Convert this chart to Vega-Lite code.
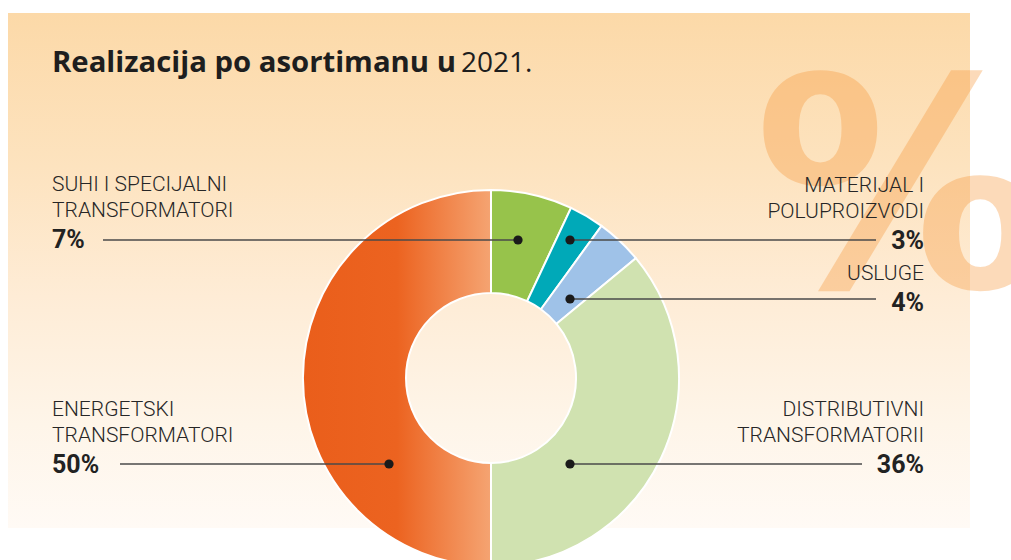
{
  "$schema": "https://vega.github.io/schema/vega-lite/v6.json",
  "width": 962,
  "height": 515,
  "autosize": {"type": "none"},
  "padding": {"left": 8, "top": 13, "right": 41, "bottom": 32},
  "background": "#ffffff",
  "view": {
    "stroke": null,
    "fill": {
      "gradient": "linear", "x1": 0, "y1": 0, "x2": 0, "y2": 1,
      "stops": [
        {"offset": 0, "color": "#fcd9a8"},
        {"offset": 0.3, "color": "#fde3bf"},
        {"offset": 0.55, "color": "#feecd6"},
        {"offset": 0.8, "color": "#fef5e9"},
        {"offset": 1, "color": "#fffaf5"}
      ]
    }
  },
  "datasets": {
    "slices": [
      {"cat": "SUHI I SPECIJALNI TRANSFORMATORI", "value": 7, "idx": 1},
      {"cat": "MATERIJAL I POLUPROIZVODI", "value": 3, "idx": 2},
      {"cat": "USLUGE", "value": 4, "idx": 3},
      {"cat": "DISTRIBUTIVNI TRANSFORMATORII", "value": 36, "idx": 4},
      {"cat": "ENERGETSKI TRANSFORMATORI", "value": 50, "idx": 5}
    ],
    "labels": [
      {"side": "L", "kind": "name", "text": "SUHI I SPECIJALNI", "x": 52, "y": 191},
      {"side": "L", "kind": "name", "text": "TRANSFORMATORI", "x": 52, "y": 217},
      {"side": "L", "kind": "pct", "text": "7%", "x": 52, "y": 248},
      {"side": "L", "kind": "name", "text": "ENERGETSKI", "x": 52, "y": 416},
      {"side": "L", "kind": "name", "text": "TRANSFORMATORI", "x": 52, "y": 442},
      {"side": "L", "kind": "pct", "text": "50%", "x": 52, "y": 473},
      {"side": "R", "kind": "name", "text": "MATERIJAL I", "x": 924, "y": 192},
      {"side": "R", "kind": "name", "text": "POLUPROIZVODI", "x": 924, "y": 218},
      {"side": "R", "kind": "pct", "text": "3%", "x": 924, "y": 249},
      {"side": "R", "kind": "name", "text": "USLUGE", "x": 924, "y": 280},
      {"side": "R", "kind": "pct", "text": "4%", "x": 924, "y": 311},
      {"side": "R", "kind": "name", "text": "DISTRIBUTIVNI", "x": 924, "y": 416},
      {"side": "R", "kind": "name", "text": "TRANSFORMATORII", "x": 924, "y": 442},
      {"side": "R", "kind": "pct", "text": "36%", "x": 924, "y": 473}
    ],
    "leaders": [
      {"cat": "SUHI", "xa": 103, "xb": 518, "dot": 518, "y": 240},
      {"cat": "MATERIJAL", "xa": 570, "xb": 876, "dot": 570, "y": 240},
      {"cat": "USLUGE", "xa": 570, "xb": 876, "dot": 570, "y": 299},
      {"cat": "DISTRIBUTIVNI", "xa": 570, "xb": 862, "dot": 570, "y": 464},
      {"cat": "ENERGETSKI", "xa": 120, "xb": 389, "dot": 389, "y": 464}
    ],
    "title": [
      {"w": "b", "text": "Realizacija po asortimanu u", "x": 52, "y": 72},
      {"w": "r", "text": "2021.", "x": 461, "y": 72}
    ],
    "mark": [
      {"text": "%", "x": 754, "y": 287}
    ]
  },
  "layer": [
    {
      "data": {"name": "mark"},
      "mark": {"type": "text", "font": "DejaVu Sans", "fontWeight": "bold", "fontSize": 292, "align": "left", "baseline": "alphabetic", "color": "#f7973a", "opacity": 0.35},
      "encoding": {
        "x": {"field": "x", "type": "quantitative", "scale": {"domain": [8, 970], "nice": false, "zero": false}, "axis": null},
        "y": {"field": "y", "type": "quantitative", "scale": {"domain": [13, 528], "nice": false, "zero": false, "reverse": true}, "axis": null},
        "text": {"field": "text"}
      }
    },
    {
      "data": {"name": "slices"},
      "mark": {"type": "arc", "outerRadius": 188, "innerRadius": 85, "stroke": "#ffffff", "strokeWidth": 2},
      "encoding": {
        "x": {"datum": 491, "type": "quantitative", "scale": {"domain": [8, 970], "nice": false, "zero": false}, "axis": null},
        "y": {"datum": 378, "type": "quantitative", "scale": {"domain": [13, 528], "nice": false, "zero": false, "reverse": true}, "axis": null},
        "theta": {"field": "value", "type": "quantitative", "stack": true},
        "order": {"field": "idx", "type": "quantitative"},
        "fill": {
          "condition": {
            "test": "datum.cat === 'ENERGETSKI TRANSFORMATORI'",
            "value": {
              "gradient": "linear", "x1": 0, "y1": 0, "x2": 1, "y2": 0,
              "stops": [
                {"offset": 0, "color": "#ea5e1b"},
                {"offset": 0.5, "color": "#ec6320"},
                {"offset": 1, "color": "#f5a472"}
              ]
            }
          },
          "field": "cat", "type": "nominal",
          "scale": {
            "domain": ["SUHI I SPECIJALNI TRANSFORMATORI", "MATERIJAL I POLUPROIZVODI", "USLUGE", "DISTRIBUTIVNI TRANSFORMATORII", "ENERGETSKI TRANSFORMATORI"],
            "range": ["#97c34b", "#00a9b8", "#9fc2e8", "#d0e2b0", "#ec6320"]
          },
          "legend": null
        }
      }
    },
    {
      "data": {"name": "leaders"},
      "mark": {"type": "rule", "color": "#4a4a4a", "strokeWidth": 1.5},
      "encoding": {
        "x": {"field": "xa", "type": "quantitative", "scale": {"domain": [8, 970], "nice": false, "zero": false}, "axis": null},
        "x2": {"field": "xb"},
        "y": {"field": "y", "type": "quantitative", "scale": {"domain": [13, 528], "nice": false, "zero": false, "reverse": true}, "axis": null}
      }
    },
    {
      "data": {"name": "leaders"},
      "mark": {"type": "circle", "size": 85, "color": "#1a1a1a", "opacity": 1},
      "encoding": {
        "x": {"field": "dot", "type": "quantitative", "scale": {"domain": [8, 970], "nice": false, "zero": false}, "axis": null},
        "y": {"field": "y", "type": "quantitative", "scale": {"domain": [13, 528], "nice": false, "zero": false, "reverse": true}, "axis": null}
      }
    },
    {
      "data": {"name": "labels"},
      "transform": [{"filter": "datum.side === 'L' && datum.kind === 'name'"}],
      "mark": {"type": "text", "font": "Roboto", "fontWeight": 300, "fontSize": 21, "align": "left", "baseline": "alphabetic", "color": "#262626"},
      "encoding": {
        "x": {"field": "x", "type": "quantitative", "scale": {"domain": [8, 970], "nice": false, "zero": false}, "axis": null},
        "y": {"field": "y", "type": "quantitative", "scale": {"domain": [13, 528], "nice": false, "zero": false, "reverse": true}, "axis": null},
        "text": {"field": "text"}
      }
    },
    {
      "data": {"name": "labels"},
      "transform": [{"filter": "datum.side === 'L' && datum.kind === 'pct'"}],
      "mark": {"type": "text", "font": "Roboto", "fontWeight": "bold", "fontSize": 25, "align": "left", "baseline": "alphabetic", "color": "#222222"},
      "encoding": {
        "x": {"field": "x", "type": "quantitative", "scale": {"domain": [8, 970], "nice": false, "zero": false}, "axis": null},
        "y": {"field": "y", "type": "quantitative", "scale": {"domain": [13, 528], "nice": false, "zero": false, "reverse": true}, "axis": null},
        "text": {"field": "text"}
      }
    },
    {
      "data": {"name": "labels"},
      "transform": [{"filter": "datum.side === 'R' && datum.kind === 'name'"}],
      "mark": {"type": "text", "font": "Roboto", "fontWeight": 300, "fontSize": 21, "align": "right", "baseline": "alphabetic", "color": "#262626"},
      "encoding": {
        "x": {"field": "x", "type": "quantitative", "scale": {"domain": [8, 970], "nice": false, "zero": false}, "axis": null},
        "y": {"field": "y", "type": "quantitative", "scale": {"domain": [13, 528], "nice": false, "zero": false, "reverse": true}, "axis": null},
        "text": {"field": "text"}
      }
    },
    {
      "data": {"name": "labels"},
      "transform": [{"filter": "datum.side === 'R' && datum.kind === 'pct'"}],
      "mark": {"type": "text", "font": "Roboto", "fontWeight": "bold", "fontSize": 25, "align": "right", "baseline": "alphabetic", "color": "#222222"},
      "encoding": {
        "x": {"field": "x", "type": "quantitative", "scale": {"domain": [8, 970], "nice": false, "zero": false}, "axis": null},
        "y": {"field": "y", "type": "quantitative", "scale": {"domain": [13, 528], "nice": false, "zero": false, "reverse": true}, "axis": null},
        "text": {"field": "text"}
      }
    },
    {
      "data": {"name": "title"},
      "transform": [{"filter": "datum.w === 'b'"}],
      "mark": {"type": "text", "font": "Open Sans", "fontWeight": "bold", "fontSize": 29.3, "align": "left", "baseline": "alphabetic", "color": "#1e1e1e"},
      "encoding": {
        "x": {"field": "x", "type": "quantitative", "scale": {"domain": [8, 970], "nice": false, "zero": false}, "axis": null},
        "y": {"field": "y", "type": "quantitative", "scale": {"domain": [13, 528], "nice": false, "zero": false, "reverse": true}, "axis": null},
        "text": {"field": "text"}
      }
    },
    {
      "data": {"name": "title"},
      "transform": [{"filter": "datum.w === 'r'"}],
      "mark": {"type": "text", "font": "Open Sans", "fontWeight": "normal", "fontSize": 28, "align": "left", "baseline": "alphabetic", "color": "#1e1e1e"},
      "encoding": {
        "x": {"field": "x", "type": "quantitative", "scale": {"domain": [8, 970], "nice": false, "zero": false}, "axis": null},
        "y": {"field": "y", "type": "quantitative", "scale": {"domain": [13, 528], "nice": false, "zero": false, "reverse": true}, "axis": null},
        "text": {"field": "text"}
      }
    }
  ]
}
